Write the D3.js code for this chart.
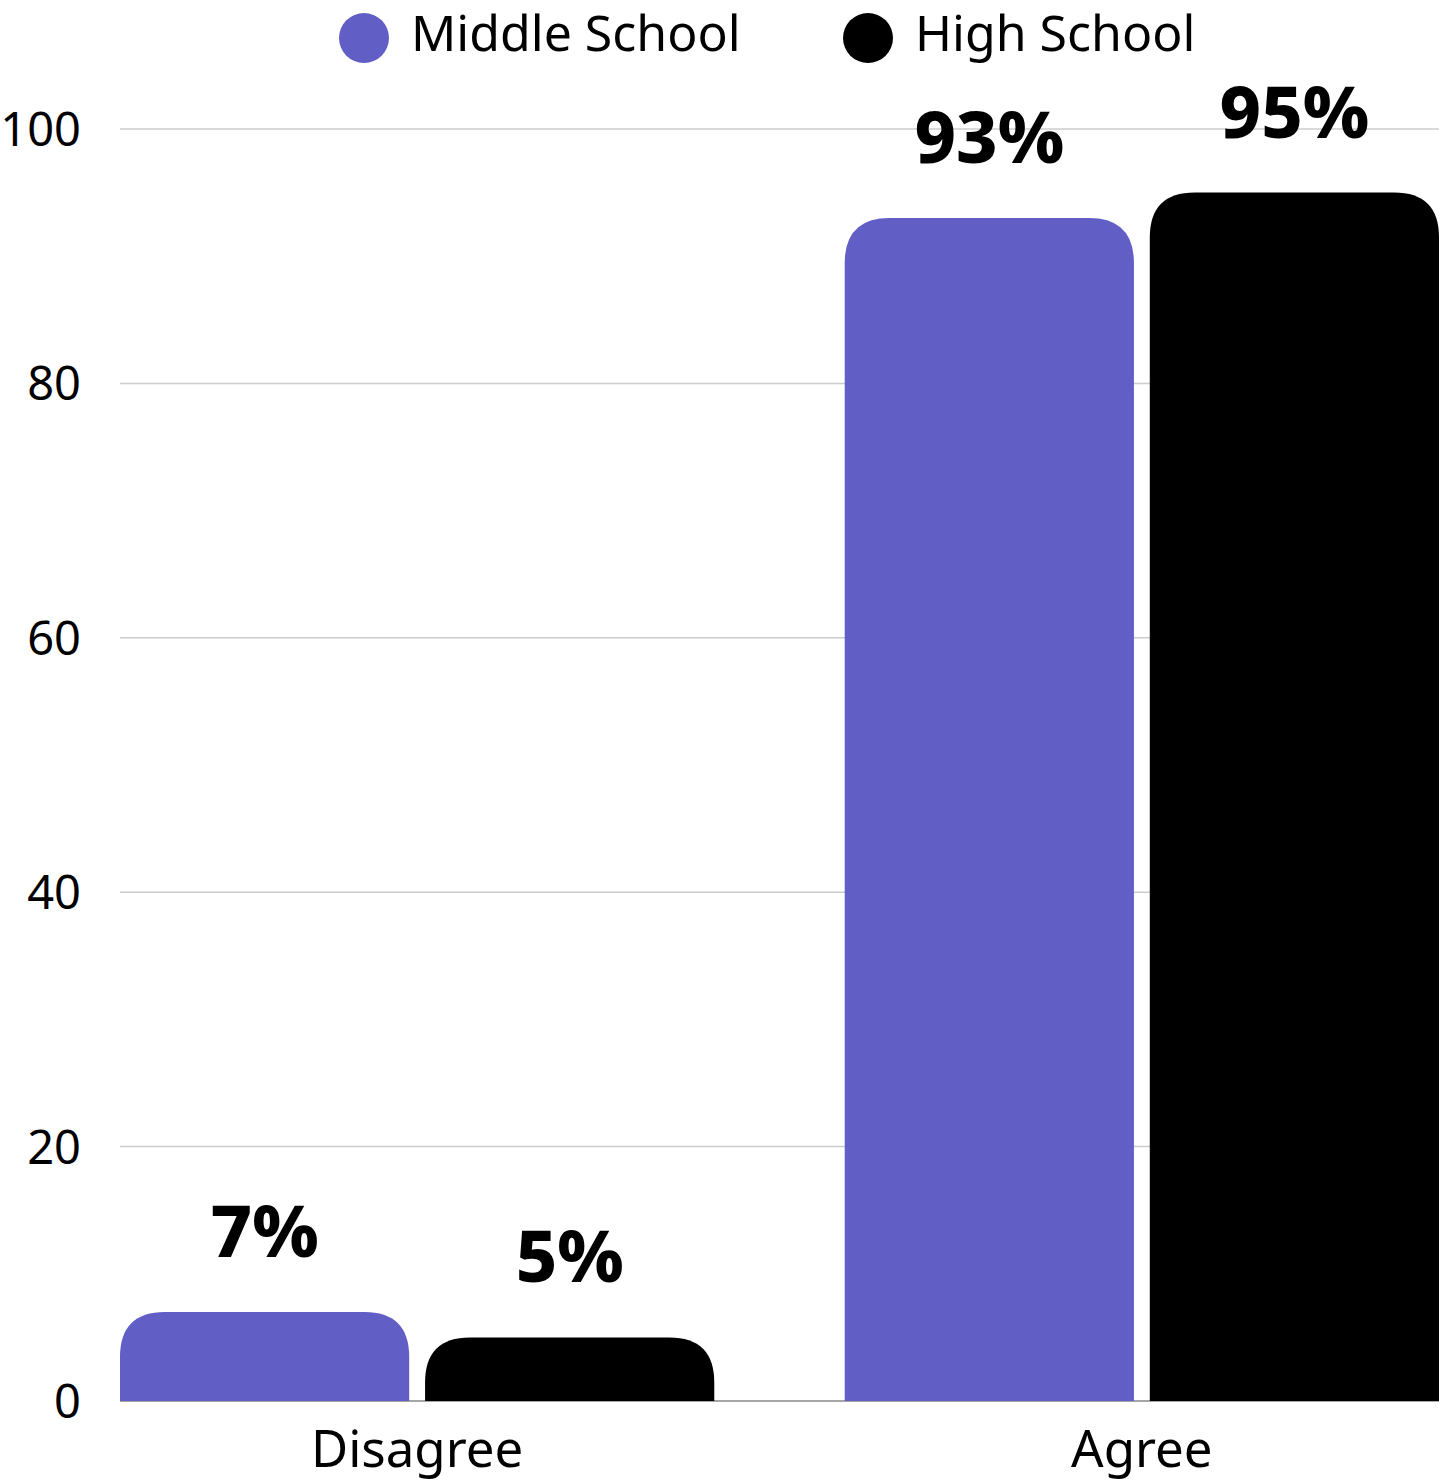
<!DOCTYPE html>
<html>
<head>
<meta charset="utf-8">
<script src="https://cdn.jsdelivr.net/npm/d3@7"></script>
<style>
  body { margin: 0; background: #fff; }
  svg text { font-family: "Noto Sans", "Open Sans", sans-serif; }
</style>
</head>
<body>
<div id="chart"></div>
<script>
const categories = ['Disagree', 'Agree'];
const seriesNames = ['Middle School', 'High School'];
const seriesColors = ['#615ec6', '#000000'];
const middleSchool = [7, 93];
const highSchool = [5, 95];
const yTicks = [0, 20, 40, 60, 80, 100];

const width = 1448, height = 1481;
const margin = { top: 129, right: 9, bottom: 80, left: 120 };
const radius = 45;

const svg = d3.select('#chart').append('svg')
  .attr('width', width)
  .attr('height', height);

const x0 = d3.scaleBand()
  .domain(categories)
  .range([margin.left, width - margin.right])
  .paddingInner(0.18)
  .paddingOuter(0);

const x1 = d3.scaleBand()
  .domain(seriesNames)
  .range([0, x0.bandwidth()])
  .paddingInner(0.052);

const y = d3.scaleLinear()
  .domain([0, 100])
  .range([height - margin.bottom, margin.top]);

// gridlines
svg.append('g')
  .selectAll('line')
  .data(yTicks.filter(d => d > 0))
  .join('line')
  .attr('x1', margin.left)
  .attr('x2', width - margin.right)
  .attr('y1', d => y(d))
  .attr('y2', d => y(d))
  .attr('stroke', '#cccccc')
  .attr('stroke-width', 1.5);

// baseline
svg.append('line')
  .attr('x1', margin.left)
  .attr('x2', width - margin.right)
  .attr('y1', y(0))
  .attr('y2', y(0))
  .attr('stroke', '#888')
  .attr('stroke-width', 1.5);

// y tick labels
svg.append('g')
  .selectAll('text')
  .data(yTicks)
  .join('text')
  .attr('x', 81)
  .attr('y', d => y(d))
  .attr('dy', '0.36em')
  .attr('text-anchor', 'end')
  .attr('font-size', 47)
  .attr('fill', '#000')
  .text(d => d);

// rounded-top bar path
function topRounded(x, yTop, w, h, r) {
  r = Math.min(r, w / 2, h);
  return 'M' + x + ',' + (yTop + h) +
    'V' + (yTop + r) +
    'Q' + x + ',' + yTop + ' ' + (x + r) + ',' + yTop +
    'H' + (x + w - r) +
    'Q' + (x + w) + ',' + yTop + ' ' + (x + w) + ',' + (yTop + r) +
    'V' + (yTop + h) + 'Z';
}

const rows = categories.map((c, i) => ({
  category: c,
  values: [
    { series: seriesNames[0], value: middleSchool[i], color: seriesColors[0] },
    { series: seriesNames[1], value: highSchool[i], color: seriesColors[1] }
  ]
}));

const groups = svg.append('g')
  .selectAll('g')
  .data(rows)
  .join('g')
  .attr('transform', d => 'translate(' + x0(d.category) + ',0)');

groups.selectAll('path')
  .data(d => d.values)
  .join('path')
  .attr('d', d => topRounded(x1(d.series), y(d.value), x1.bandwidth(), y(0) - y(d.value), radius))
  .attr('fill', d => d.color);

groups.selectAll('text.value')
  .data(d => d.values)
  .join('text')
  .attr('class', 'value')
  .attr('x', d => x1(d.series) + x1.bandwidth() / 2)
  .attr('y', d => y(d.value) - 55)
  .attr('text-anchor', 'middle')
  .attr('font-size', 72)
  .attr('font-weight', 800)
  .attr('fill', '#000')
  .text(d => d.value + '%');

// category labels
svg.append('g')
  .selectAll('text')
  .data(categories)
  .join('text')
  .attr('x', d => x0(d) + x0.bandwidth() / 2)
  .attr('y', 1467)
  .attr('text-anchor', 'middle')
  .attr('font-size', 51)
  .attr('fill', '#000')
  .text(d => d);

// legend
const legendX = [364, 868];
const legend = svg.append('g')
  .selectAll('g')
  .data(seriesNames)
  .join('g')
  .attr('transform', (d, i) => 'translate(' + legendX[i] + ',38)');

legend.append('circle')
  .attr('r', 25)
  .attr('fill', (d, i) => seriesColors[i]);

legend.append('text')
  .attr('x', 47)
  .attr('y', 13)
  .attr('font-size', 50)
  .attr('fill', '#000')
  .text(d => d);
</script>
</body>
</html>
